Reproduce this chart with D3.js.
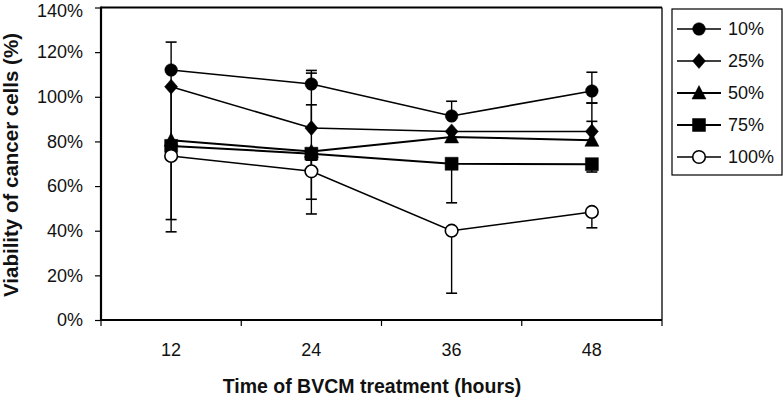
<!DOCTYPE html>
<html>
<head>
<meta charset="utf-8">
<script src="https://cdn.jsdelivr.net/npm/d3@7"></script>
<style>
  html, body { margin: 0; padding: 0; background: #fff; }
  svg { display: block; }
  text { font-family: "Liberation Sans", Arial, sans-serif; fill: #111; }
</style>
</head>
<body>
<svg id="chart" width="783" height="402"></svg>
<script>
// ---- data ----
const categories = ["12", "24", "36", "48"];
const seriesNames = ["10%", "25%", "50%", "75%", "100%"];
const values10  = [112, 105.7, 91.4, 102.6];
const values25  = [104.5, 86, 84.5, 84.5];
const values50  = [80.5, 75.5, 82, 80.5];
const values75  = [78, 74.5, 70, 69.8];
const values100 = [73.5, 66.6, 40, 48.4];
const errUp10   = [12.5, 6.1, 6.6, 8.4];
const errDown10 = [0, 0, 0, 5.4];
const errUp25   = [0, 24.6, 0, 12.7];
const errDown25 = [25, 0, 0, 0];
const errUp50   = [0, 0, 0, 8.5];
const errDown50 = [0, 28, 0, 0];
const errUp75   = [33, 21.9, 0, 0];
const errDown75 = [33, 20.4, 17.5, 3.5];
const errUp100  = [0, 5, 0, 0];
const errDown100 = [34, 0, 28, 7.1];
const yTicks = [0, 20, 40, 60, 80, 100, 120, 140];
const markerTypes = ["circle", "diamond", "triangle", "square", "opencircle"];
const xTitle = "Time of BVCM treatment (hours)";
const yTitle = "Viability of cancer cells (%)";

const series = seriesNames.map((name, i) => ({
  name,
  values: [values10, values25, values50, values75, values100][i],
  up: [errUp10, errUp25, errUp50, errUp75, errUp100][i],
  down: [errDown10, errDown25, errDown50, errDown75, errDown100][i],
  marker: markerTypes[i]
}));

// ---- layout ----
const pLeft = 101, pRight = 662, pTop = 7.5, pBottom = 320;
const svg = d3.select("#chart");

const x = d3.scaleBand().domain(categories).range([pLeft, pRight]).padding(0);
const y = d3.scaleLinear().domain([0, 140]).range([pBottom, pTop]);
const cx = c => x(c) + x.bandwidth() / 2;

function markerPath(type) {
  const p = d3.path();
  if (type === "circle" || type === "opencircle") {
    p.arc(0, 0, 6.3, 0, 2 * Math.PI);
  } else if (type === "diamond") {
    p.moveTo(0, -7.5); p.lineTo(6.5, 0); p.lineTo(0, 7.5); p.lineTo(-6.5, 0); p.closePath();
  } else if (type === "triangle") {
    p.moveTo(0, -7.5); p.lineTo(7, 6); p.lineTo(-7, 6); p.closePath();
  } else if (type === "square") {
    p.rect(-6.5, -6.5, 13, 13);
  }
  return p.toString();
}
function drawMarker(g, type) {
  g.append("path")
    .attr("d", markerPath(type))
    .attr("fill", type === "opencircle" ? "#fff" : "#000")
    .attr("stroke", "#000")
    .attr("stroke-width", type === "opencircle" ? 1.6 : 0.5);
}

// ---- axes ----
const yAxis = d3.axisLeft(y).tickValues(yTicks).tickFormat(d => d + "%")
  .tickSize(6).tickSizeOuter(0).tickPadding(12);
const gy = svg.append("g").attr("transform", `translate(${pLeft},0)`).call(yAxis);
gy.select(".domain").remove();
gy.selectAll(".tick line").attr("stroke", "#000").attr("stroke-width", 1.2);
gy.selectAll(".tick text").attr("font-size", 18).attr("font-family", "Liberation Sans, Arial, sans-serif").attr("fill", "#111")
  .attr("dy", d => d === 140 ? "0.48em" : "0.32em");

const xAxis = d3.axisBottom(x).tickSize(0).tickPadding(23);
const gx = svg.append("g").attr("transform", `translate(0,${pBottom})`).call(xAxis);
gx.select(".domain").remove();
gx.selectAll(".tick text").attr("font-size", 18).attr("font-family", "Liberation Sans, Arial, sans-serif").attr("fill", "#111");

// x tick marks at category boundaries
const boundaries = categories.map(c => x(c)).concat([x(categories[categories.length - 1]) + x.bandwidth()]);
svg.append("g").selectAll("line").data(boundaries).join("line")
  .attr("x1", d => d).attr("x2", d => d)
  .attr("y1", pBottom).attr("y2", pBottom + 6)
  .attr("stroke", "#000").attr("stroke-width", 1.2);

// frame
svg.append("line").attr("x1", pLeft).attr("x2", pRight).attr("y1", pTop).attr("y2", pTop)
  .attr("stroke", "#000").attr("stroke-width", 2);
svg.append("line").attr("x1", pRight).attr("x2", pRight).attr("y1", pTop).attr("y2", pBottom)
  .attr("stroke", "#000").attr("stroke-width", 1.3);
svg.append("line").attr("x1", pLeft).attr("x2", pLeft).attr("y1", pTop - 1).attr("y2", pBottom + 1)
  .attr("stroke", "#000").attr("stroke-width", 2.2);
svg.append("line").attr("x1", pLeft - 1).attr("x2", pRight).attr("y1", pBottom).attr("y2", pBottom)
  .attr("stroke", "#000").attr("stroke-width", 2.2);

// ---- error bars ----
const eb = svg.append("g");
series.forEach(s => {
  categories.forEach((c, i) => {
    const v = s.values[i];
    [[s.up[i], 1], [s.down[i], -1]].forEach(([e, dir]) => {
      if (!e) return;
      const yEnd = y(v + dir * e);
      eb.append("line").attr("x1", cx(c)).attr("x2", cx(c))
        .attr("y1", y(v)).attr("y2", yEnd)
        .attr("stroke", "#000").attr("stroke-width", 1.4);
      eb.append("line").attr("x1", cx(c) - 5.5).attr("x2", cx(c) + 5.5)
        .attr("y1", yEnd).attr("y2", yEnd)
        .attr("stroke", "#000").attr("stroke-width", 1.6);
    });
  });
});

// ---- lines ----
const line = d3.line().x((d, i) => cx(categories[i])).y(d => y(d));
const lineWidths = [1.6, 1.5, 2, 2, 1.5];
svg.append("g").selectAll("path").data(series).join("path")
  .attr("d", d => line(d.values))
  .attr("fill", "none").attr("stroke", "#000")
  .attr("stroke-width", (d, i) => lineWidths[i]);

// ---- markers ----
series.forEach(s => {
  s.values.forEach((v, i) => {
    const g = svg.append("g").attr("transform", `translate(${cx(categories[i])},${y(v)})`);
    drawMarker(g, s.marker);
  });
});

// ---- titles ----
svg.append("text").attr("x", 372).attr("y", 393)
  .attr("text-anchor", "middle").attr("font-size", 19.5).attr("font-weight", "bold")
  .text(xTitle);
svg.append("text").attr("transform", "translate(18,165) rotate(-90)")
  .attr("text-anchor", "middle").attr("font-size", 20.5).attr("font-weight", "bold")
  .text(yTitle);

// ---- legend ----
const legTop = 9, legLeft = 672, legRight = 782, legBottom = 175;
svg.append("rect").attr("x", legLeft).attr("y", legTop)
  .attr("width", legRight - legLeft).attr("height", legBottom - legTop)
  .attr("fill", "#fff").attr("stroke", "#000").attr("stroke-width", 1.2);
const legY = d3.scalePoint().domain(seriesNames).range([29, 157]);
seriesNames.forEach((name, i) => {
  const yy = legY(name);
  svg.append("line").attr("x1", 677).attr("x2", 721).attr("y1", yy).attr("y2", yy)
    .attr("stroke", "#000").attr("stroke-width", lineWidths[i]);
  const g = svg.append("g").attr("transform", `translate(699,${yy})`);
  drawMarker(g, markerTypes[i]);
  svg.append("text").attr("x", 728).attr("y", yy).attr("dy", "0.36em")
    .attr("font-size", 18).text(name);
});
</script>
</body>
</html>
